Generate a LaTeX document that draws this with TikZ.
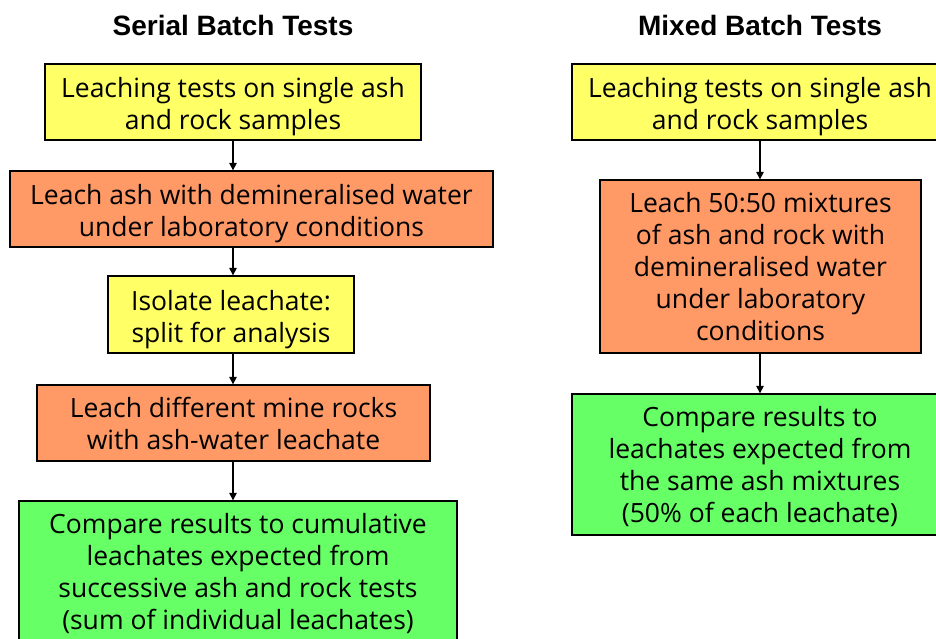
\documentclass[tikz,border=0pt]{standalone}
\usepackage{fontspec}
\setmainfont{Open Sans}
\newfontfamily\titlefont{Liberation Sans}
\usetikzlibrary{arrows.meta}
\definecolor{boxyellow}{HTML}{FFFF66}
\definecolor{boxorange}{HTML}{FF9966}
\definecolor{boxgreen}{HTML}{66FF66}
\tikzset{
  flowbox/.style={draw=black, line width=1.3pt, align=center, inner sep=0pt,
    font=\fontsize{26.5}{32}\selectfont},
  ybox/.style={flowbox, fill=boxyellow},
  obox/.style={flowbox, fill=boxorange},
  gbox/.style={flowbox, fill=boxgreen},
  titletext/.style={font=\titlefont\bfseries\fontsize{28}{32}\selectfont, inner sep=0pt},
  flowarrow/.style={draw=black, line width=1.2pt, -{Triangle[length=7.5pt,width=7.5pt]}}
}
\newcommand{\dn}[1][30pt]{\rule{0pt}{#1}}
\begin{document}
\begin{tikzpicture}[x=1pt,y=-1pt]
\useasboundingbox (0,0) rectangle (936,639);
\clip (0,0) rectangle (936,639);
\fill[white] (0,0) rectangle (936,639);
% titles
\node[titletext] (t1) at (233,25) {Serial Batch Tests};
\node[titletext] (t2) at (760,25) {Mixed Batch Tests};
% left column
\node[ybox, minimum width=376pt, minimum height=76pt] (l1) at (233,102)
  {\dn Leaching tests on single ash\\and rock samples};
\node[obox, minimum width=483pt, minimum height=76pt] (l2) at (251.5,209)
  {\dn Leach ash with demineralised water\\under laboratory conditions};
\node[ybox, minimum width=246pt, minimum height=77pt] (l3) at (231,314.5)
  {\dn Isolate leachate:\\split for analysis};
\node[obox, minimum width=393pt, minimum height=76pt] (l4) at (233.5,423)
  {\dn[22pt]Leach different mine rocks\\with ash-water leachate};
\node[gbox, minimum width=438pt, minimum height=146pt] (l5) at (238,574)
  {\dn[18pt]Compare results to cumulative\\leachates expected from\\successive ash and rock tests\\(sum of individual leachates)};
% right column
\node[ybox, minimum width=376pt, minimum height=76pt] (r1) at (760,102)
  {\dn Leaching tests on single ash\\and rock samples};
\node[obox, minimum width=321pt, minimum height=173pt] (r2) at (760.5,266.5)
  {\dn[20pt]Leach 50:50 mixtures\\of ash and rock with\\demineralised water\\under laboratory\\conditions};
\node[gbox, minimum width=376pt, minimum height=141pt] (r3) at (760,464.5)
  {\dn[24pt]Compare results to\\leachates expected from\\the same ash mixtures\\(50\% of each leachate)};
% arrows
\draw[flowarrow] (l1.south -| 233,0) -- (l2.north -| 233,0);
\draw[flowarrow] (l2.south -| 233,0) -- (l3.north -| 233,0);
\draw[flowarrow] (l3.south -| 233,0) -- (l4.north -| 233,0);
\draw[flowarrow] (l4.south -| 233,0) -- (l5.north -| 233,0);
\draw[flowarrow] (r1.south -| 760,0) -- (r2.north -| 760,0);
\draw[flowarrow] (r2.south -| 760,0) -- (r3.north -| 760,0);
\end{tikzpicture}
\end{document}
